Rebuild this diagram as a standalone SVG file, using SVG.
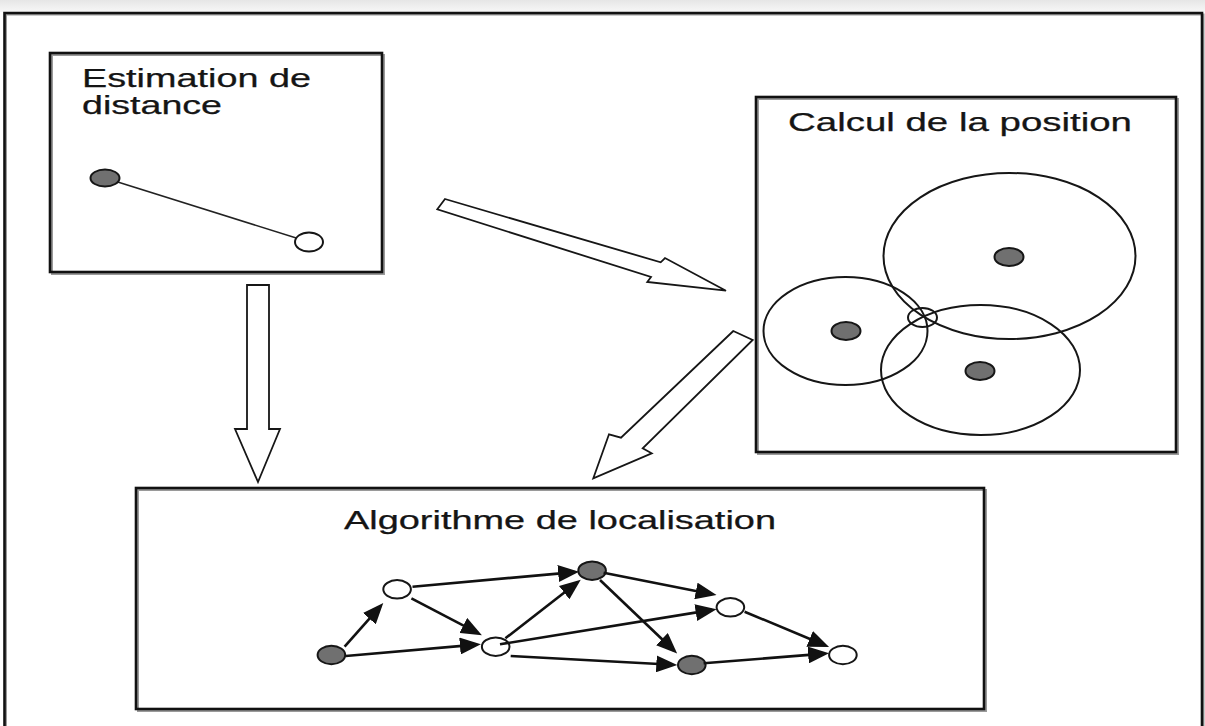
<svg xmlns="http://www.w3.org/2000/svg" width="1205" height="726" viewBox="0 0 1205 726">
<defs>
<linearGradient id="topg" x1="0" y1="0" x2="0" y2="1">
<stop offset="0" stop-color="#e6e6e6"/>
<stop offset="1" stop-color="#f7f7f7"/>
</linearGradient>
<marker id="ah" markerUnits="userSpaceOnUse" markerWidth="21" markerHeight="17" refX="16.5" refY="8.5" orient="auto">
<path d="M0,0 L21,8.5 L0,17 z" fill="#111"/>
</marker>
</defs>
<style>
.box{fill:none;stroke:#111;stroke-width:2.6}
.shadow{fill:none;stroke:#9a9a9a;stroke-width:2}
.lbl{font-family:"Liberation Sans",Arial,sans-serif;font-size:25px;fill:#151515;stroke:#151515;stroke-width:0.25}
.ring{fill:none;stroke:#161616;stroke-width:2}
.dark{fill:#707070;stroke:#161616;stroke-width:2}
.light{fill:#fff;stroke:#161616;stroke-width:2}
.hollow{fill:#fff;stroke:#161616;stroke-width:1.8;stroke-linejoin:miter}
.edge{stroke:#111;stroke-width:2.6;fill:none;marker-end:url(#ah)}
</style>
<rect x="0" y="0" width="1205" height="726" fill="#fff"/>
<rect x="0" y="0" width="1205" height="12" fill="url(#topg)"/>
<g id="frame">
<path d="M6,728 V14.5 H1203.5 V728" class="shadow"/>
<path d="M4.5,728 V13 H1202 V728" class="box"/>
</g>
<g id="estimation">
<rect x="52" y="55" width="332" height="219" class="shadow"/>
<rect x="50" y="53" width="332" height="219" class="box"/>
<text class="lbl" x="82" y="87" textLength="229" lengthAdjust="spacingAndGlyphs">Estimation de</text>
<text class="lbl" x="82" y="114" textLength="140" lengthAdjust="spacingAndGlyphs">distance</text>
<line x1="105" y1="178" x2="309" y2="242" stroke="#222" stroke-width="1.6"/>
<ellipse cx="105" cy="178" rx="14.5" ry="8.5" class="dark"/>
<ellipse cx="309" cy="242" rx="14" ry="9.5" class="light"/>
</g>
<g id="calcul">
<rect x="758" y="99" width="420" height="355" class="shadow"/>
<rect x="756" y="97" width="420" height="355" class="box"/>
<text class="lbl" x="788" y="131" textLength="344" lengthAdjust="spacingAndGlyphs">Calcul de la position</text>
<ellipse cx="1009.5" cy="256" rx="126" ry="83" class="ring"/>
<ellipse cx="845.5" cy="331" rx="82" ry="54" class="ring"/>
<ellipse cx="980.5" cy="370" rx="99.5" ry="65" class="ring"/>
<ellipse cx="922.5" cy="317.5" rx="14.5" ry="9.5" class="ring"/>
<ellipse cx="1009" cy="257" rx="14.5" ry="9" class="dark"/>
<ellipse cx="846" cy="331" rx="14.5" ry="9" class="dark"/>
<ellipse cx="980" cy="371" rx="14.5" ry="9" class="dark"/>
</g>
<g id="algorithme">
<rect x="138" y="490" width="848" height="221" class="shadow"/>
<rect x="136" y="488" width="848" height="221" class="box"/>
<text class="lbl" x="344" y="529" textLength="432" lengthAdjust="spacingAndGlyphs">Algorithme de localisation</text>
<g id="graph-nodes">
<ellipse id="nA" cx="331.4" cy="655" rx="13.8" ry="9.2" class="dark"/>
<ellipse id="nB" cx="397.1" cy="589.3" rx="13.8" ry="9.2" class="light"/>
<ellipse id="nC" cx="495.7" cy="646.7" rx="13.8" ry="9.2" class="light"/>
<ellipse id="nD" cx="592.1" cy="570.7" rx="13.8" ry="9.2" class="dark"/>
<ellipse id="nE" cx="730.4" cy="607.3" rx="13.8" ry="9.2" class="light"/>
<ellipse id="nF" cx="691.8" cy="665" rx="13.8" ry="9.2" class="dark"/>
<ellipse id="nG" cx="842.9" cy="655" rx="13.8" ry="9.2" class="light"/>
</g>
<g id="graph-edges">
<line x1="344.6" y1="646.7" x2="380.3" y2="606.3" class="edge"/>
<line x1="345.7" y1="656" x2="476.4" y2="644.6" class="edge"/>
<line x1="411.4" y1="598.3" x2="477.9" y2="633.1" class="edge"/>
<line x1="412.5" y1="586.7" x2="574.6" y2="572.1" class="edge"/>
<line x1="505.4" y1="638.3" x2="577.2" y2="582.5" class="edge"/>
<line x1="500" y1="644.3" x2="712.1" y2="609.9" class="edge"/>
<line x1="603.6" y1="572.7" x2="712.1" y2="594.2" class="edge"/>
<line x1="600" y1="580" x2="673.9" y2="650.5" class="edge"/>
<line x1="510.7" y1="656" x2="672.8" y2="664.8" class="edge"/>
<line x1="744.6" y1="611.7" x2="824.9" y2="645.2" class="edge"/>
<line x1="703.6" y1="663.3" x2="824.6" y2="653.6" class="edge"/>
</g>
</g>
<g id="connectors">
<polygon class="hollow" points="445,199 660.7,262.3 665,258 726,290.7 647.3,282 651,277 437.3,209.3"/>
<polygon class="hollow" points="733.3,331 621,437.7 609,434.3 593.3,478.3 651.7,453.3 642.7,448.3 752.7,340"/>
<polygon class="hollow" points="247,285 269,285 269,429 280,429 258,482 235,429 247,429"/>
</g>
</svg>
